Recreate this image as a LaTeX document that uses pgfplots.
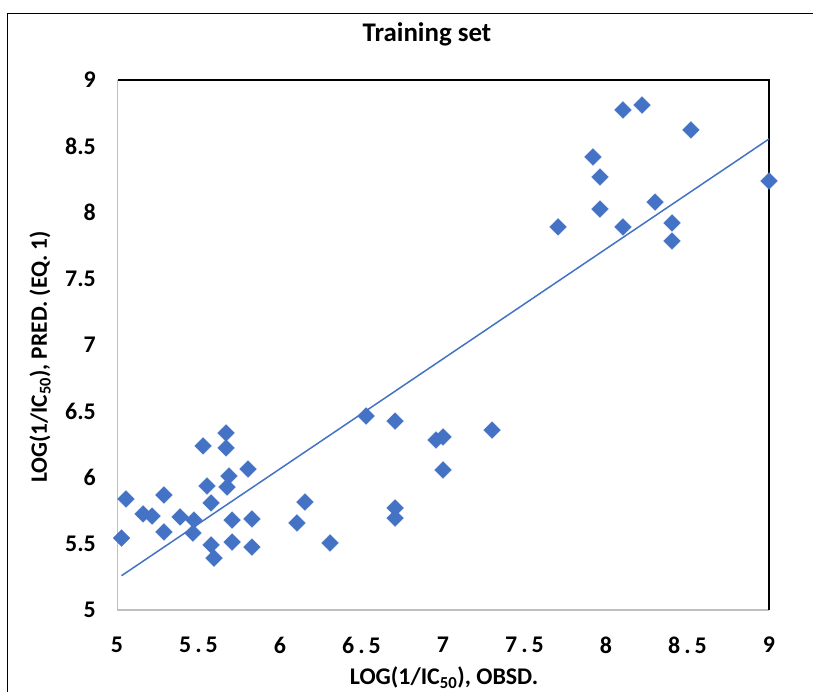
\documentclass[border=0pt]{standalone}
\usepackage{fontspec}
\setmainfont{Carlito}
\usepackage{pgfplots}
\pgfplotsset{compat=1.18}
\definecolor{mk}{HTML}{4472C4}
\definecolor{gl}{HTML}{BFBFBF}
\pgfplotstableread{
x y
5.028 5.543
5.055 5.838
5.160 5.725
5.215 5.709
5.288 5.868
5.288 5.589
5.387 5.702
5.472 5.679
5.466 5.581
5.528 6.238
5.552 5.936
5.577 5.808
5.577 5.491
5.595 5.392
5.669 6.336
5.669 6.223
5.687 6.011
5.675 5.928
5.706 5.679
5.706 5.513
5.804 6.064
5.828 5.687
5.828 5.475
6.104 5.657
6.153 5.815
6.307 5.506
6.528 6.464
6.706 6.426
6.706 5.770
6.706 5.694
6.957 6.283
7.000 6.306
7.000 6.057
7.301 6.358
7.706 7.891
7.920 8.419
7.963 8.268
7.963 8.026
8.104 8.774
8.104 7.891
8.221 8.811
8.301 8.079
8.405 7.921
8.405 7.785
8.521 8.623
9.000 8.238
}\datatable
\begin{document}
\begin{tikzpicture}
\begin{scope}[x=1bp,y=-1bp,xshift=-117bp,yshift=610bp]
 \path[use as bounding box] (0,0) rectangle (813,692);
 \draw[black,line width=1.5bp] (7.5,692)--(7.5,13.5)--(813,13.5);
 \draw[gl,line width=1.6bp] (117.5,80)--(117.5,610)--(769,610);
 \draw[black,line width=1.6bp] (117.5,80)--(769,80)--(769,610);
 \node[anchor=base,inner sep=0pt,font=\bfseries\fontsize{27}{27}\selectfont] at (427,42) {Training set};
 \node[anchor=base,inner sep=0pt,font=\bfseries\fontsize{24}{24}\selectfont] at (444,685) {LOG(1/IC\textsubscript{50}), OBSD.};
 \node[anchor=base,inner sep=0pt,rotate=90,font=\bfseries\fontsize{23.5}{23.5}\selectfont] at (47,357) {LOG(1/IC\textsubscript{50}), PRED. (EQ. 1)};
\end{scope}
\begin{axis}[
  at={(0,0)}, anchor=south west,
  scale only axis, width=652bp, height=530bp,
  xmin=5, xmax=9, ymin=5, ymax=9,
  clip=false,
  axis line style={draw=none},
  major tick length=0pt,
  xtick={5,5.5,6,6.5,7,7.5,8,8.5,9},
  ytick={5,5.5,6,6.5,7,7.5,8,8.5,9},
  xticklabels={5,5\,.\,5,6,6\,.\,5,7,7\,.\,5,8,8\,.\,5,9},
  yticklabels={5,5.5,6,6.5,7,7.5,8,8.5,9},
  ticklabel style={font=\bfseries\fontsize{24}{24}\selectfont},
  xticklabel style={anchor=north, inner sep=0pt, yshift=-27bp},
  yticklabel style={anchor=east, inner sep=0pt, xshift=-21bp},
]
\addplot[only marks, mark=square*, mark size=6pt,
  mark options={rotate=45, fill=mk, draw=mk, line width=0.2pt}] table[x=x,y=y] {\datatable};
\addplot[mk, line width=1.5bp, no marks] coordinates {(5.028,5.259) (9,8.555)};
\end{axis}
\end{tikzpicture}
\end{document}
